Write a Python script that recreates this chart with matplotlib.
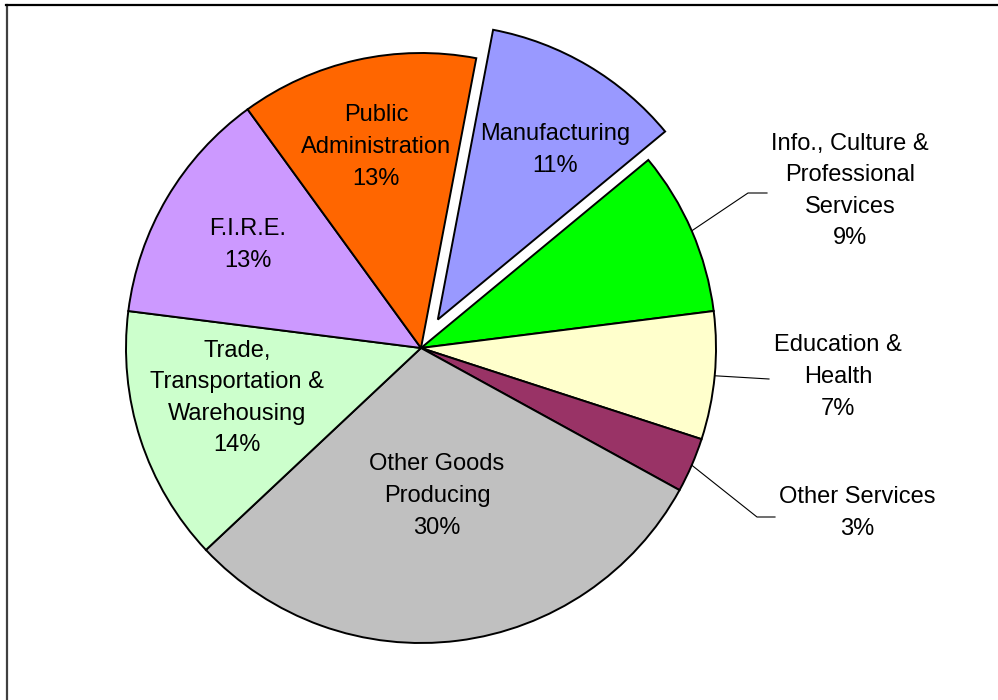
import numpy as np
import matplotlib
matplotlib.use("Agg")
import matplotlib.pyplot as plt
from matplotlib.lines import Line2D

plt.rcParams['font.family'] = ['Liberation Sans', 'DejaVu Sans']

# employment shares by sector, clockwise from Manufacturing
sectors = ["Manufacturing", "Info., Culture &\nProfessional\nServices",
           "Education &\nHealth", "Other Services", "Other Goods\nProducing",
           "Trade,\nTransportation &\nWarehousing", "F.I.R.E.",
           "Public\nAdministration"]
shares = [11, 9, 7, 3, 30, 14, 13, 13]
colors = ["#9999FF", "#00FF00", "#FFFFCC", "#993366", "#C0C0C0",
          "#CCFFCC", "#CC99FF", "#FF6600"]
pulled = [True, False, False, False, False, False, False, False]

W, H = 998, 700
fig = plt.figure(figsize=(W / 100, H / 100), dpi=100)
ax = fig.add_axes([0, 0, 1, 1])

cx, cy, R = 421, H - 348, 295
# pie explode is in data units here, so scale by the radius
explode = [0.112 * R if p else 0 for p in pulled]
wedges, _ = ax.pie(shares, colors=colors, explode=explode, startangle=79.2,
                   counterclock=False, center=(cx, cy), radius=R, frame=True,
                   wedgeprops=dict(edgecolor='black', linewidth=1.4))
ax.set_xlim(0, W)
ax.set_ylim(0, H)
ax.set_aspect('equal')
ax.axis('off')

# label text centres (image pixels, y from top)
label_pos = [(555, 150), (850, 191), (838, 377), (857, 513), (437, 496),
             (237, 398), (248, 245), (376, 147)]
# leader line elbows for the outside labels
leaders = {1: [(748, 193), (767, 193)],
           2: [(769, 379)],
           3: [(757, 517), (775, 517)]}

for i, (name, val) in enumerate(zip(sectors, shares)):
    x, y = label_pos[i]
    ax.text(x, H - y, f"{name}\n{val}%", ha='center', va='center',
            fontsize=17, linespacing=1.56, color='black')
    if i in leaders:
        w = wedges[i]
        mid = np.deg2rad((w.theta1 + w.theta2) / 2)
        pts = [(cx + R * np.cos(mid), cy + R * np.sin(mid))]
        pts += [(px, H - py) for px, py in leaders[i]]
        xs, ys = zip(*pts)
        ax.plot(xs, ys, color='black', linewidth=0.8)

# chart area border (runs off the right and bottom edges)
fig.add_artist(Line2D([7 / W, 7 / W], [0, 1 - 5 / H], color='#404040',
                      linewidth=1.6, transform=fig.transFigure))
fig.add_artist(Line2D([6 / W, 1], [1 - 5 / H, 1 - 5 / H], color='black',
                      linewidth=1.6, transform=fig.transFigure))

fig.savefig("out.png", dpi=100, facecolor='white')
